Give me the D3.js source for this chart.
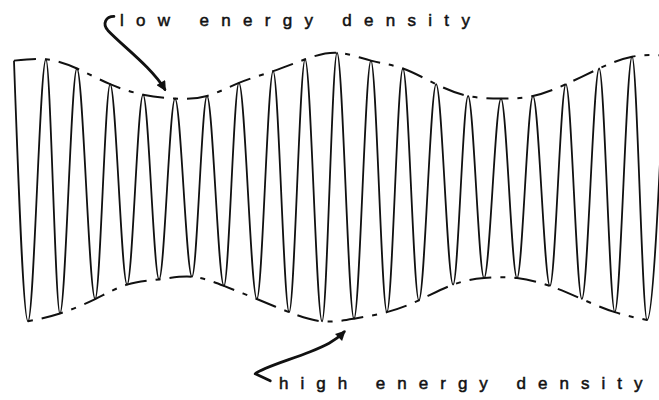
<!DOCTYPE html>
<html>
<head>
<meta charset="utf-8">
<script src="https://cdn.jsdelivr.net/npm/d3@7"></script>
<style>
  body { margin: 0; background: #fff; }
  svg { display: block; }
</style>
</head>
<body>
<div id="chart"></div>
<script>
// crests and troughs of the beating wave
// time is in wave periods, value is the displacement (-1 .. 1)
let crestTimes = [-0.43, 0.55, 1.50, 2.52, 3.53, 4.51, 5.49, 6.47, 7.52, 8.50, 9.48,
    10.52, 11.50, 12.52, 13.50, 14.51, 15.49, 16.50, 17.52, 18.53, 19.54]
let crestValues = [0.98, 0.99, 0.92, 0.80, 0.72, 0.69, 0.71, 0.81, 0.90, 0.99, 1.04,
    0.98, 0.92, 0.80, 0.71, 0.69, 0.71, 0.80, 0.92, 1.01, 1.02]

let troughTimes = [0, 0.98, 2.06, 3.04, 4.02, 5.03, 6.01, 7.02, 8.01, 9.02,
    10.0, 11.01, 11.99, 13.04, 13.99, 15.0, 16.01, 16.99, 18.0, 18.99]
let troughValues = [-1.01, -0.95, -0.84, -0.73, -0.69, -0.67, -0.74, -0.84, -0.94, -1.01,
    -0.99, -0.94, -0.85, -0.73, -0.68, -0.68, -0.74, -0.84, -0.94, -1.00]

// annotations: text and where the arrow points (time, value)
let lowLabel = 'low energy density'
let lowPoint = [4.2, 0.76]
let highLabel = 'high energy density'
let highPoint = [9.7, -1.09]

let width = 659
let height = 400

let svg = d3.select('#chart').append('svg')
    .attr('width', width)
    .attr('height', height)

let x = d3.scaleLinear()
    .domain([0, 20])
    .range([28, 680])

let y = d3.scaleLinear()
    .domain([-1, 1])
    .range([320, 58])

// one list of turning points, in time order
let crests = crestTimes.map(function (t, i) { return { t: t, v: crestValues[i] } })
let troughs = troughTimes.map(function (t, i) { return { t: t, v: troughValues[i] } })
let turns = crests.concat(troughs).sort(function (a, b) { return a.t - b.t })

let line = d3.line()
    .x(function (d) { return x(d.t) })
    .y(function (d) { return y(d.v) })

// envelopes (dashed)
let envelope = d3.line()
    .x(function (d) { return x(d.t) })
    .y(function (d) { return y(d.v) })
    .curve(d3.curveNatural)

svg.append('path')
    .datum(crests)
    .attr('d', envelope)
    .attr('fill', 'none')
    .attr('stroke', '#111')
    .attr('stroke-width', 2)
    .attr('stroke-dasharray', '22,9,5,9')

svg.append('path')
    .datum(troughs)
    .attr('d', envelope)
    .attr('fill', 'none')
    .attr('stroke', '#111')
    .attr('stroke-width', 2)
    .attr('stroke-dasharray', '5,9,22,9')

// the wave itself
svg.append('path')
    .datum(turns)
    .attr('d', line.curve(d3.curveMonotoneX))
    .attr('fill', 'none')
    .attr('stroke', '#111')
    .attr('stroke-width', 1.8)

// arrow head
svg.append('defs').append('marker')
    .attr('id', 'head')
    .attr('viewBox', '0 0 10 10')
    .attr('refX', 8)
    .attr('refY', 5)
    .attr('markerUnits', 'userSpaceOnUse')
    .attr('markerWidth', 11)
    .attr('markerHeight', 10)
    .attr('orient', 'auto')
    .append('path')
    .attr('d', 'M0,0 L10,5 L0,10 Z')
    .attr('fill', '#111')

// top arrow, drawn relative to its tip
let tx = x(lowPoint[0]), ty = y(lowPoint[1])
let topArrow = d3.path()
topArrow.moveTo(tx - 51, ty - 73)
topArrow.bezierCurveTo(tx - 59, ty - 73, tx - 63, ty - 66, tx - 57, ty - 59)
topArrow.bezierCurveTo(tx - 43, ty - 44, tx - 13, ty - 22, tx, ty)

svg.append('path')
    .attr('d', topArrow.toString())
    .attr('fill', 'none')
    .attr('stroke', '#111')
    .attr('stroke-width', 2.8)
    .attr('stroke-linecap', 'round')
    .attr('marker-end', 'url(#head)')

// bottom arrow
let bx = x(highPoint[0]), by = y(highPoint[1])
let bottomArrow = d3.path()
bottomArrow.moveTo(bx - 74, by + 49)
bottomArrow.lineTo(bx - 89, by + 42)
bottomArrow.bezierCurveTo(bx - 82, by + 36, bx - 54, by + 28, bx - 34, by + 20)
bottomArrow.bezierCurveTo(bx - 19, by + 14, bx - 10, by + 10, bx, by)

svg.append('path')
    .attr('d', bottomArrow.toString())
    .attr('fill', 'none')
    .attr('stroke', '#111')
    .attr('stroke-width', 2.8)
    .attr('stroke-linecap', 'round')
    .attr('stroke-linejoin', 'round')
    .attr('marker-end', 'url(#head)')

// labels
let labelFont = '"Liberation Sans", Arial, sans-serif'

svg.append('text')
    .attr('x', 120)
    .attr('y', 26)
    .attr('font-family', labelFont)
    .attr('font-size', 17)
    .attr('letter-spacing', 12.3)
    .attr('fill', '#111')
    .attr('stroke', '#111')
    .attr('stroke-width', 0.5)
    .text(lowLabel)

svg.append('text')
    .attr('x', 279)
    .attr('y', 389)
    .attr('font-family', labelFont)
    .attr('font-size', 17)
    .attr('letter-spacing', 12)
    .attr('fill', '#111')
    .attr('stroke', '#111')
    .attr('stroke-width', 0.5)
    .text(highLabel)
</script>
</body>
</html>
